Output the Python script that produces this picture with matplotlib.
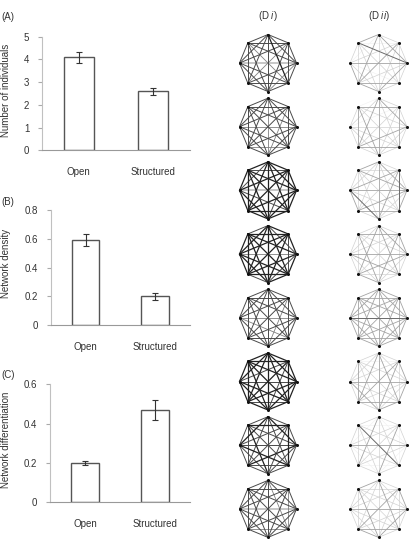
import matplotlib
matplotlib.use('Agg')
import numpy as np
import matplotlib.pyplot as plt

plt.rcParams['font.family'] = ['Liberation Sans', 'DejaVu Sans']
plt.rcParams['mathtext.fontset'] = 'custom'
plt.rcParams['mathtext.rm'] = 'Liberation Sans'
plt.rcParams['mathtext.it'] = 'Liberation Sans:italic'

# ============================================================
# data
# ============================================================
groups = ['Open', 'Structured']

individuals = [4.1, 2.6]
individuals_err = [0.24, 0.15]

density = [0.59, 0.20]
density_err = [0.042, 0.022]

differentiation = [0.20, 0.47]
differentiation_err = [0.01, 0.05]

# edge strengths, pair order (0,1),(0,2)..(0,7),(1,2)..(6,7)
# node 0 = top, then clockwise
net_open = [
    "3343333" "333233" "32313" "3332" "333" "33" "3",
    "3332333" "332333" "33323" "3233" "333" "33" "3",
    "4444434" "443443" "44414" "4434" "444" "44" "4",
    "4344443" "434444" "43424" "4444" "344" "44" "4",
    "3333333" "332333" "33323" "3323" "333" "33" "3",
    "4444444" "443434" "44434" "4344" "444" "44" "4",
    "3433343" "343334" "33433" "3343" "334" "33" "3",
    "3323333" "323333" "33313" "3233" "333" "33" "3",
]
net_struct = [
    "1211202" "111210" "12123" "1201" "211" "21" "1",
    "1212210" "121102" "11211" "1211" "112" "12" "1",
    "1212112" "132121" "21222" "1211" "131" "21" "1",
    "1221211" "212112" "11221" "1121" "212" "11" "1",
    "2222222" "222222" "22232" "2222" "222" "22" "2",
    "1122211" "212210" "21121" "2211" "121" "12" "1",
    "1011201" "102110" "10121" "1013" "101" "11" "1",
    "1121112" "211211" "12121" "1211" "212" "11" "1",
]

fig = plt.figure(figsize=(4.09, 5.52), dpi=100)
FW, FH = 409.0, 552.0
TXT = '#333333'


def px_rect(left, top, right, bottom):
    return [left / FW, 1 - bottom / FH, (right - left) / FW, (bottom - top) / FH]


def bar_panel(rect, vals, errs, ymax, yticks, ylabel, letter, label_y, letter_y):
    ax = fig.add_axes(rect)
    x = np.arange(len(groups))
    ax.bar(x, vals, width=0.4, color='white', edgecolor='#555555', linewidth=1.0,
           yerr=errs, capsize=2,
           error_kw=dict(ecolor='#333333', elinewidth=0.8, capthick=0.8))
    ax.set_xlim(-0.5, 1.5)
    ax.set_ylim(0, ymax)
    ax.set_xticks(x)
    ax.set_xticklabels(groups, fontsize=7, color=TXT)
    ax.set_yticks(yticks)
    ax.set_yticklabels(['0' if t == 0 else f'{t:g}' for t in yticks], fontsize=7, color=TXT)
    for s in ['top', 'right']:
        ax.spines[s].set_visible(False)
    ax.spines['left'].set_color('#c0c0c0')
    ax.spines['bottom'].set_color('#999999')
    ax.spines['left'].set_linewidth(0.8)
    ax.spines['bottom'].set_linewidth(0.8)
    ax.tick_params(axis='x', length=0, pad=12)
    ax.tick_params(axis='y', length=3, width=0.8, color='#aaaaaa', pad=6)
    fig.text(6 / FW, 1 - label_y / FH, ylabel, rotation=90, ha='center', va='center',
             fontsize=7, color=TXT)
    fig.text(1 / FW, 1 - letter_y / FH, letter, ha='left', va='center', fontsize=7, color=TXT)
    return ax


bar_panel(px_rect(41.7, 36.7, 190, 150.3), individuals, individuals_err, 5,
          [0, 1, 2, 3, 4, 5], 'Number of individuals', '(A)', 90, 17)
bar_panel(px_rect(50.7, 209.7, 190, 325.3), density, density_err, 0.8,
          [0, 0.2, 0.4, 0.6, 0.8], 'Network density', '(B)', 263, 202)
bar_panel(px_rect(50, 384.3, 190, 502.3), differentiation, differentiation_err, 0.6,
          [0, 0.2, 0.4, 0.6], 'Network differentiation', '(C)', 440, 375)

# ============================================================
# networks
# ============================================================
axn = fig.add_axes([0, 0, 1, 1])
axn.set_xlim(0, FW)
axn.set_ylim(FH, 0)
axn.axis('off')

pairs = [(i, j) for i in range(8) for j in range(i + 1, 8)]
ang = np.deg2rad(90 - 45 * np.arange(8))
R = 28.5
row_y = 63 + 63.7 * np.arange(8)

open_style = {1: ('#bdbdbd', 1.2), 2: ('#808080', 0.6), 3: ('#4a4a4a', 0.7), 4: ('#222222', 0.9)}
struct_style = {0: ('#f0f0f0', 0.4), 1: ('#d2d2d2', 0.5), 2: ('#a4a4a4', 0.6), 3: ('#6a6a6a', 0.7)}


def draw_net(cx, cy, code, style):
    xs = cx + R * np.cos(ang)
    ys = cy - R * np.sin(ang)
    order = sorted(range(len(pairs)), key=lambda k: int(code[k]))
    for k in order:
        i, j = pairs[k]
        c, lw = style[int(code[k])]
        axn.plot([xs[i], xs[j]], [ys[i], ys[j]], color=c, lw=lw, solid_capstyle='round', zorder=1)
    axn.plot(xs, ys, 'o', color='#111111', ms=2.2, mew=0, zorder=3)


for r in range(8):
    draw_net(268, row_y[r], net_open[r], open_style)
    draw_net(378.5, row_y[r], net_struct[r], struct_style)

axn.text(268, 16, r'(D $\it{i}$)', ha='center', va='center', fontsize=7, color=TXT)
axn.text(378.5, 16, r'(D $\it{ii}$)', ha='center', va='center', fontsize=7, color=TXT)

fig.savefig('out.png', dpi=100)
